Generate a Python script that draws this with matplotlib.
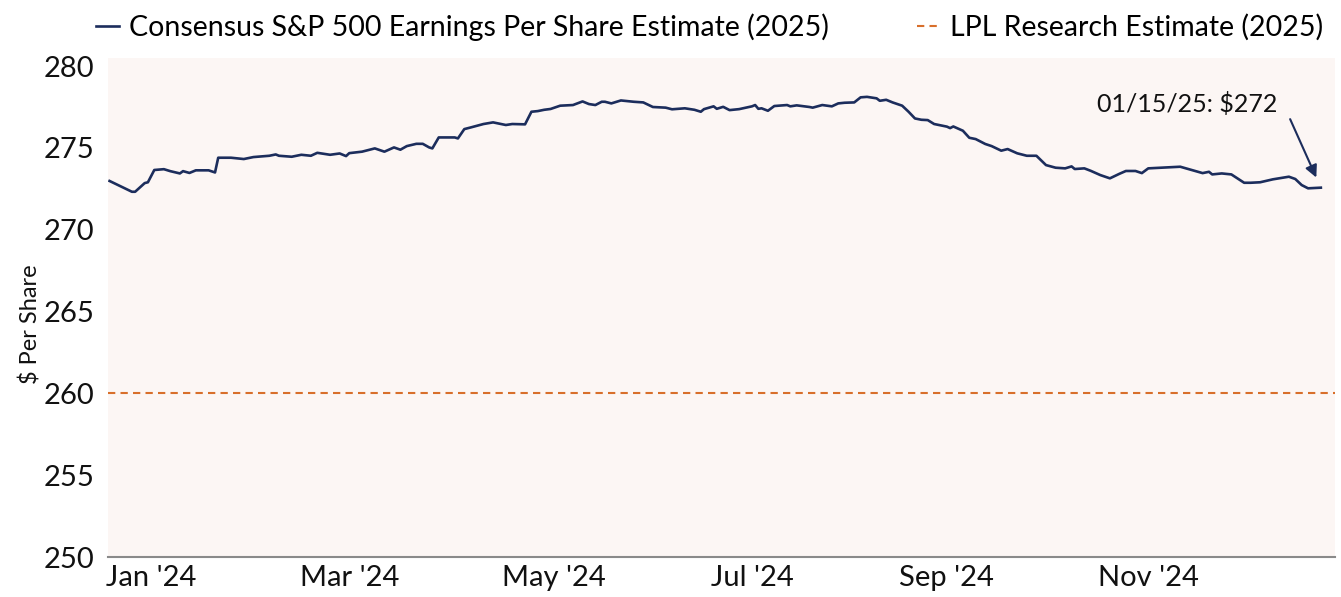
import matplotlib
matplotlib.use("Agg")
import matplotlib.pyplot as plt
import pandas as pd

plt.rcParams["font.family"] = ["Lato", "DejaVu Sans"]

# consensus 2025 EPS estimate
dates = [
    "2024-01-02", "2024-01-09", "2024-01-10", "2024-01-13", "2024-01-14", "2024-01-16",
    "2024-01-19", "2024-01-21", "2024-01-24", "2024-01-25", "2024-01-27", "2024-01-29",
    "2024-02-02", "2024-02-04", "2024-02-05", "2024-02-09", "2024-02-13", "2024-02-16",
    "2024-02-21", "2024-02-23", "2024-02-24", "2024-02-28", "2024-03-02", "2024-03-05",
    "2024-03-07", "2024-03-11", "2024-03-14", "2024-03-16", "2024-03-17", "2024-03-21",
    "2024-03-23", "2024-03-25", "2024-03-28", "2024-03-31", "2024-04-02", "2024-04-04",
    "2024-04-07", "2024-04-09", "2024-04-11", "2024-04-12", "2024-04-14", "2024-04-19",
    "2024-04-20", "2024-04-22", "2024-04-24", "2024-04-28", "2024-05-01", "2024-05-05",
    "2024-05-07", "2024-05-10", "2024-05-11", "2024-05-13", "2024-05-15", "2024-05-17",
    "2024-05-19", "2024-05-22", "2024-05-26", "2024-05-29", "2024-05-31", "2024-06-02",
    "2024-06-04", "2024-06-05", "2024-06-07", "2024-06-10", "2024-06-14", "2024-06-17",
    "2024-06-20", "2024-06-24", "2024-06-26", "2024-06-30", "2024-07-03", "2024-07-05",
    "2024-07-06", "2024-07-09", "2024-07-10", "2024-07-12", "2024-07-14", "2024-07-17",
    "2024-07-21", "2024-07-22", "2024-07-23", "2024-07-24", "2024-07-26", "2024-07-28",
    "2024-08-01", "2024-08-02", "2024-08-04", "2024-08-08", "2024-08-09", "2024-08-12",
    "2024-08-15", "2024-08-17", "2024-08-19", "2024-08-22", "2024-08-24", "2024-08-26",
    "2024-08-29", "2024-08-30", "2024-09-01", "2024-09-03", "2024-09-06", "2024-09-08",
    "2024-09-10", "2024-09-12", "2024-09-14", "2024-09-16", "2024-09-20", "2024-09-21",
    "2024-09-22", "2024-09-25", "2024-09-27", "2024-09-29", "2024-10-02", "2024-10-04",
    "2024-10-07", "2024-10-09", "2024-10-12", "2024-10-15", "2024-10-18", "2024-10-21",
    "2024-10-24", "2024-10-27", "2024-10-29", "2024-10-30", "2024-11-02", "2024-11-04",
    "2024-11-07", "2024-11-10", "2024-11-13", "2024-11-15", "2024-11-18", "2024-11-20",
    "2024-11-22", "2024-11-26", "2024-12-02", "2024-12-06", "2024-12-09", "2024-12-11",
    "2024-12-12", "2024-12-15", "2024-12-18", "2024-12-22", "2024-12-24", "2024-12-27",
    "2024-12-31", "2025-01-05", "2025-01-07", "2025-01-09", "2025-01-11", "2025-01-15",
]
eps = [
    272.98, 272.32, 272.32, 272.85, 272.90, 273.65,
    273.70, 273.58, 273.44, 273.58, 273.47, 273.63,
    273.63, 273.50, 274.40, 274.40, 274.32, 274.44,
    274.52, 274.60, 274.52, 274.46, 274.58, 274.52,
    274.70, 274.58, 274.66, 274.50, 274.68, 274.77,
    274.87, 274.97, 274.77, 275.03, 274.89, 275.11,
    275.25, 275.25, 275.03, 274.97, 275.64, 275.64,
    275.58, 276.15, 276.25, 276.46, 276.56, 276.40,
    276.46, 276.44, 276.44, 277.21, 277.25, 277.33,
    277.38, 277.58, 277.62, 277.84, 277.68, 277.62,
    277.82, 277.82, 277.72, 277.90, 277.82, 277.78,
    277.50, 277.46, 277.36, 277.42, 277.33, 277.21,
    277.37, 277.54, 277.39, 277.51, 277.31, 277.37,
    277.54, 277.62, 277.39, 277.42, 277.27, 277.56,
    277.62, 277.54, 277.60, 277.50, 277.46, 277.62,
    277.54, 277.72, 277.76, 277.78, 278.09, 278.12,
    278.03, 277.88, 277.94, 277.78, 277.58, 277.21,
    276.80, 276.72, 276.70, 276.46, 276.30, 276.21,
    276.31, 276.05, 275.62, 275.54, 275.24, 275.11,
    274.83, 274.93, 274.67, 274.52, 274.52, 273.95,
    273.79, 273.75, 273.87, 273.71, 273.75, 273.60,
    273.34, 273.14, 273.42, 273.59, 273.59, 273.46,
    273.75, 273.79, 273.85, 273.63, 273.46, 273.54,
    273.38, 273.44, 273.38, 272.87, 272.87, 272.90,
    273.08, 273.24, 273.10, 272.73, 272.53, 272.57,
]
lpl_estimate = 260

tick_dates = ["2024-01-15", "2024-03-17", "2024-05-20", "2024-07-21", "2024-09-20", "2024-11-22"]
tick_labels = ["Jan '24", "Mar '24", "May '24", "Jul '24", "Sep '24", "Nov '24"]
y_ticks = [250, 255, 260, 265, 270, 275, 280]

navy = "#1c2d5c"
orange = "#d86f2b"

x = pd.to_datetime(dates)

fig = plt.figure(figsize=(13.41, 5.97), dpi=100)
ax = fig.add_axes([0.0805, 0.067, 0.915, 0.836])
ax.set_facecolor("#fcf6f4")

ax.plot(x, eps, color=navy, lw=1.9, label="Consensus S&P 500 Earnings Per Share Estimate (2025)")
ax.axhline(lpl_estimate, color=orange, lw=1.5, dashes=(3.5, 2.5),
           label="LPL Research Estimate (2025)")

ax.set_ylim(250, 280.5)
ax.set_xlim(pd.Timestamp("2024-01-01 12:00"), pd.Timestamp("2025-01-19 10:00"))
ax.set_yticks(y_ticks)
ax.set_xticks(pd.to_datetime(tick_dates))
ax.set_xticklabels(tick_labels)
ax.tick_params(axis="both", length=0, labelsize=21, colors="#111111")
ax.tick_params(axis="x", pad=6)
ax.tick_params(axis="y", pad=10)
ax.set_ylabel("$ Per Share", fontsize=17, color="#111111")
ax.yaxis.set_label_coords(-0.054, 0.467)

for side in ["top", "right", "left"]:
    ax.spines[side].set_visible(False)
ax.spines["bottom"].set_color("#8a8a8a")
ax.spines["bottom"].set_linewidth(1.5)

# callout for latest value
ax.annotate(f"01/15/25: ${int(eps[-1])}", xy=(x[-1], eps[-1]),
            xytext=(-96, 60), textcoords="offset points",
            ha="center", va="center", fontsize=18, color="#111111",
            arrowprops=dict(arrowstyle="-|>", color=navy, lw=1.5,
                            relpos=(1.05, 0.2), shrinkA=6, shrinkB=8,
                            mutation_scale=18))

fig.legend(loc="center", bbox_to_anchor=(0.529, 0.955), ncol=2, frameon=False,
           fontsize=20.5, handlelength=0.8, handletextpad=0.35, columnspacing=3.1)

fig.savefig("out.png", dpi=100, facecolor="white")
